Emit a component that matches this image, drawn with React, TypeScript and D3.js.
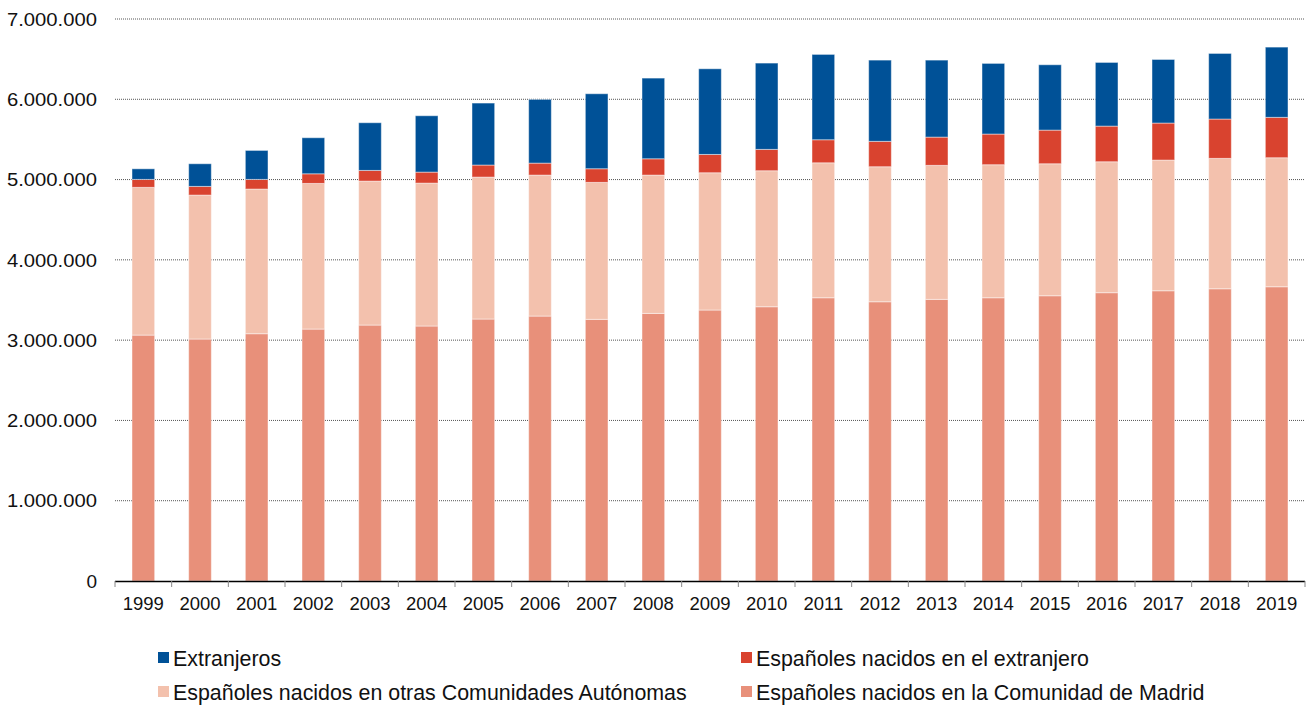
import * as d3 from 'd3'
import React from 'react'

const years = ['1999', '2000', '2001', '2002', '2003', '2004', '2005', '2006', '2007', '2008', '2009', '2010', '2011', '2012', '2013', '2014', '2015', '2016', '2017', '2018', '2019']

// values in millions
const madrid = [3.063, 3.014, 3.08, 3.138, 3.188, 3.176, 3.263, 3.3, 3.259, 3.333, 3.375, 3.416, 3.528, 3.478, 3.508, 3.528, 3.553, 3.591, 3.615, 3.64, 3.665]
const otrasCCAA = [1.84, 1.793, 1.802, 1.814, 1.793, 1.78, 1.768, 1.756, 1.706, 1.723, 1.71, 1.694, 1.681, 1.682, 1.669, 1.657, 1.644, 1.631, 1.628, 1.624, 1.607]
const espExtranjero = [0.099, 0.108, 0.12, 0.12, 0.133, 0.137, 0.15, 0.149, 0.17, 0.203, 0.228, 0.266, 0.287, 0.316, 0.352, 0.382, 0.419, 0.444, 0.461, 0.49, 0.503]
const extranjeros = [0.132, 0.282, 0.361, 0.449, 0.594, 0.702, 0.772, 0.794, 0.934, 1.005, 1.067, 1.075, 1.063, 1.012, 0.959, 0.88, 0.814, 0.793, 0.792, 0.817, 0.875]

const yTicks = [0, 1e6, 2e6, 3e6, 4e6, 5e6, 6e6, 7e6]

const series = [
  { key: 'madrid', label: 'Españoles nacidos en la Comunidad de Madrid', values: madrid, color: '#E8907A' },
  { key: 'otras', label: 'Españoles nacidos en otras Comunidades Autónomas', values: otrasCCAA, color: '#F3C1AD' },
  { key: 'espext', label: 'Españoles nacidos en el extranjero', values: espExtranjero, color: '#D9432F' },
  { key: 'ext', label: 'Extranjeros', values: extranjeros, color: '#005197' },
]

const legendOrder = ['ext', 'espext', 'otras', 'madrid']

const width = 1312
const height = 705
const margin = { top: 19, right: 7, bottom: 124, left: 115 }
const font = 'Liberation Sans, Arial, sans-serif'

const fmt = (v: number) => d3.format(',')(v).replace(/,/g, '.')

const App: React.FC = () => {
  const innerW = width - margin.left - margin.right
  const innerH = height - margin.top - margin.bottom

  const x = d3.scaleBand().domain(years).range([0, innerW]).paddingInner(0.6).paddingOuter(0.3)
  const y = d3.scaleLinear().domain([0, 7e6]).range([innerH, 0])

  const rows = years.map((yr, i) => {
    const r: any = { year: yr }
    series.forEach((s) => (r[s.key] = s.values[i] * 1e6))
    return r
  })
  const stacked = d3.stack<any>().keys(series.map((s) => s.key))(rows)

  const step = x.step()

  return (
    <svg width={width} height={height} style={{ position: 'absolute', left: 0, top: 0, background: '#fff' }} fontFamily={font}>
      <g transform={`translate(${margin.left},${margin.top})`}>
        {yTicks.slice(1).map((t) => (
          <line key={t} x1={0} x2={innerW} y1={y(t)} y2={y(t)} stroke='#555' strokeWidth={1} strokeDasharray='1 1' />
        ))}
        {yTicks.map((t) => (
          <text key={'l' + t} x={-18} y={y(t)} dy='0.35em' textAnchor='end' fontSize={19} fill='#111' textLength={t === 0 ? undefined : 90} lengthAdjust='spacingAndGlyphs'>
            {fmt(t)}
          </text>
        ))}
        {stacked.map((layer, li) => (
          <g key={layer.key} fill={series[li].color}>
            {layer.map((d, i) => (
              <rect
                key={i}
                x={x(years[i])}
                width={x.bandwidth()}
                y={y(d[1])}
                height={y(d[0]) - y(d[1])}
                stroke='#fff'
                strokeOpacity={0.45}
                strokeWidth={1}
              />
            ))}
          </g>
        ))}
        <line x1={0} x2={innerW} y1={innerH + 0.5} y2={innerH + 0.5} stroke='#000' strokeWidth={1.5} />
        {d3.range(years.length + 1).map((i) => (
          <line key={'t' + i} x1={i * step} x2={i * step} y1={innerH} y2={innerH + 6} stroke='#888' strokeWidth={1} />
        ))}
        {years.map((yr) => (
          <text key={'x' + yr} x={(x(yr) || 0) + x.bandwidth() / 2} y={innerH + 29} textAnchor='middle' fontSize={18.5} fill='#111'>
            {yr}
          </text>
        ))}
      </g>
      <g>
        {legendOrder.map((k, i) => {
          const s = series.find((d) => d.key === k)!
          const lx = i % 2 === 0 ? 158 : 741
          const ly = i < 2 ? 658 : 692
          return (
            <g key={k} transform={`translate(${lx},${ly})`}>
              <rect x={0} y={-6} width={11} height={11} fill={s.color} />
              <text x={15} y={0} dy='0.35em' fontSize={21.4} fill='#111'>
                {s.label}
              </text>
            </g>
          )
        })}
      </g>
    </svg>
  )
}

export default App
